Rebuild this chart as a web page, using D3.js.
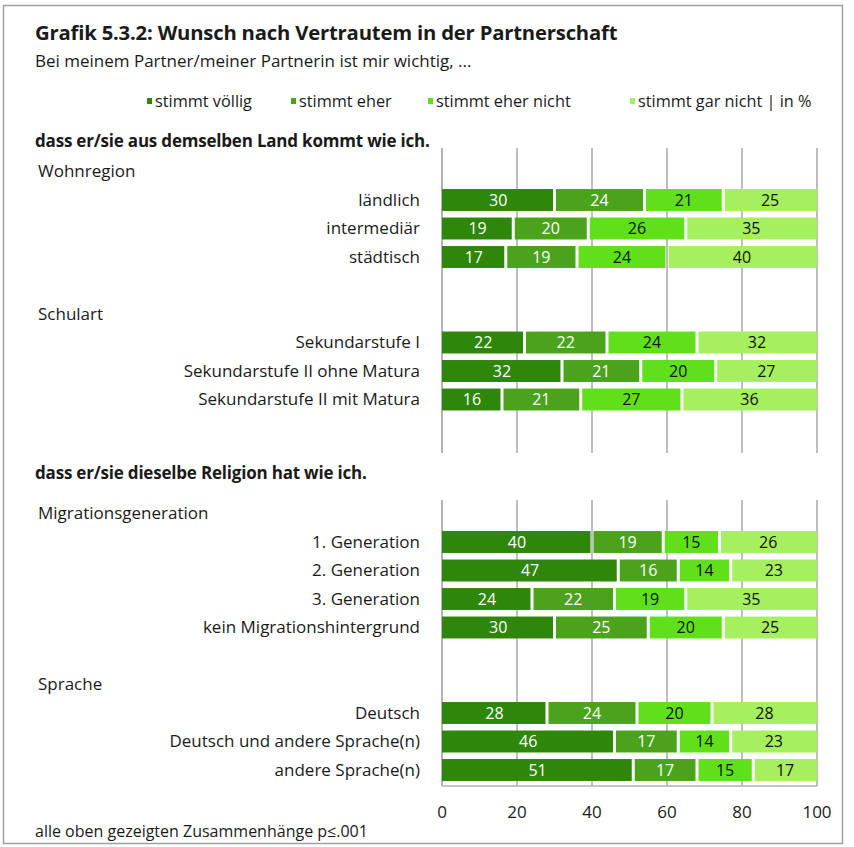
<!DOCTYPE html>
<html>
<head>
<meta charset="utf-8">
<script src="https://cdn.jsdelivr.net/npm/d3@7"></script>
<style>
  body { margin: 0; background: #fff; }
  text { font-family: "Open Sans", Lato, sans-serif; fill: #1a1a1a; }
</style>
</head>
<body>
<div id="app"></div>
<script>
// data
const categories = ['ländlich', 'intermediär', 'städtisch',
  'Sekundarstufe I', 'Sekundarstufe II ohne Matura', 'Sekundarstufe II mit Matura',
  '1. Generation', '2. Generation', '3. Generation', 'kein Migrationshintergrund',
  'Deutsch', 'Deutsch und andere Sprache(n)', 'andere Sprache(n)']
const stimmtVoellig   = [30, 19, 17, 22, 32, 16, 40, 47, 24, 30, 28, 46, 51]
const stimmtEher      = [24, 20, 19, 22, 21, 21, 19, 16, 22, 25, 24, 17, 17]
const stimmtEherNicht = [21, 26, 24, 24, 20, 27, 15, 14, 19, 20, 20, 14, 15]
const stimmtGarNicht  = [25, 35, 40, 32, 27, 36, 26, 23, 35, 25, 28, 23, 17]
const seriesNames = ['stimmt völlig', 'stimmt eher', 'stimmt eher nicht', 'stimmt gar nicht | in %']
const groupNames = ['Wohnregion', 'Schulart', 'Migrationsgeneration', 'Sprache']
const groupOf = [0, 0, 0, 1, 1, 1, 2, 2, 2, 2, 3, 3, 3]
const sectionTitles = ['dass er/sie aus demselben Land kommt wie ich.', 'dass er/sie dieselbe Religion hat wie ich.']
const xTicks = [0, 20, 40, 60, 80, 100]

const colors = ['#2e860b', '#4aa31b', '#5fe01a', '#a6ef5e']
const labelColors = ['#ffffff', '#ffffff', '#111111', '#111111']

const W = 854, H = 847

// rows: group header, its categories, spacer rows between groups
const rowKeys = []
groupNames.forEach((g, gi) => {
  if (gi == 1) rowKeys.push('gap-a')
  if (gi == 2) rowKeys.push('gap-b', 'gap-c', 'gap-d')
  if (gi == 3) rowKeys.push('gap-e')
  rowKeys.push('hdr-' + g)
  categories.forEach((c, i) => { if (groupOf[i] == gi) rowKeys.push(c) })
})

const table = categories.map((c, i) => ({
  cat: c, v0: stimmtVoellig[i], v1: stimmtEher[i], v2: stimmtEherNicht[i], v3: stimmtGarNicht[i]
}))
const stack = d3.stack().keys(['v0', 'v1', 'v2', 'v3'])(table)

const x = d3.scaleLinear().domain([0, 100]).range([442, 817])
const step = 28.5
const y = d3.scaleBand().domain(rowKeys)
  .range([157.25, 157.25 + step * rowKeys.length])
  .paddingInner(0.23).paddingOuter(0.115)

const svg = d3.select('#app').append('svg')
  .attr('width', W).attr('height', H)

// frame
svg.append('rect').attr('x', 3.5).attr('y', 5.5).attr('width', 839).attr('height', 838)
  .attr('fill', 'none').attr('stroke', '#a0a0a0').attr('stroke-width', 1.5)

// titles
svg.append('text').attr('x', 35).attr('y', 40).attr('font-size', 20.3).attr('font-weight', 700)
  .attr('letter-spacing', -0.2)
  .text('Grafik 5.3.2: Wunsch nach Vertrautem in der Partnerschaft')
svg.append('text').attr('x', 35).attr('y', 67).attr('font-size', 17)
  .text('Bei meinem Partner/meiner Partnerin ist mir wichtig, ...')

// legend
const legendX = [147, 291, 428, 630]
const legend = svg.append('g').selectAll('g').data(seriesNames).join('g')
  .attr('transform', (d, i) => `translate(${legendX[i]},101)`)
legend.append('rect').attr('x', 0).attr('y', -3).attr('width', 5).attr('height', 6)
  .attr('fill', (d, i) => colors[i])
legend.append('text').attr('x', 8).attr('dy', '0.35em').attr('font-size', 16.3).text(d => d)

// gridlines, two panels
const panels = [[148, 453], [500, 786]]
panels.forEach(p => {
  svg.append('g').selectAll('line').data(xTicks).join('line')
    .attr('x1', d => x(d)).attr('x2', d => x(d))
    .attr('y1', p[0]).attr('y2', p[1])
    .attr('stroke', d => d == 0 ? '#9a9a9a' : '#a8a8a8').attr('stroke-width', 1.5)
})
svg.append('line').attr('x1', x(0)).attr('x2', x(100)).attr('y1', 786).attr('y2', 786)
  .attr('stroke', '#b0b0b0').attr('stroke-width', 1.5)

// section headings
const secY = [141, 473]
sectionTitles.forEach((t, i) => {
  svg.append('text').attr('x', 35).attr('y', secY[i]).attr('dy', '0.35em')
    .attr('font-size', 17).attr('font-weight', 700).attr('letter-spacing', -0.2).text(t)
})

// group headers
svg.append('g').selectAll('text').data(groupNames).join('text')
  .attr('x', 38).attr('y', d => y('hdr-' + d) + y.bandwidth() / 2).attr('dy', '0.35em')
  .attr('font-size', 17).text(d => d)

// category labels
svg.append('g').selectAll('text').data(categories).join('text')
  .attr('x', 420).attr('y', d => y(d) + y.bandwidth() / 2).attr('dy', '0.35em')
  .attr('text-anchor', 'end').attr('font-size', 17).text(d => d)

// bars
const series = svg.append('g').selectAll('g').data(stack).join('g')
series.selectAll('rect').data((s, si) => s.map(d => ({ d, si }))).join('rect')
  .attr('x', o => x(o.d[0]) + (o.si > 0 ? 1.5 : 0))
  .attr('width', o => x(o.d[1]) - x(o.d[0]) - (o.si > 0 ? 1.5 : 0) - (o.si < 3 ? 1.5 : 0))
  .attr('y', o => y(o.d.data.cat))
  .attr('height', y.bandwidth())
  .attr('fill', o => colors[o.si])

series.selectAll('text').data((s, si) => s.map(d => ({ d, si }))).join('text')
  .attr('x', o => (x(o.d[0]) + x(o.d[1])) / 2)
  .attr('y', o => y(o.d.data.cat) + y.bandwidth() / 2)
  .attr('dy', '0.35em').attr('text-anchor', 'middle').attr('font-size', 16)
  .style('fill', o => labelColors[o.si])
  .text(o => o.d[1] - o.d[0])

// x axis labels
svg.append('g').selectAll('text').data(xTicks).join('text')
  .attr('x', d => x(d)).attr('y', 812).attr('dy', '0.35em')
  .attr('text-anchor', 'middle').attr('font-size', 17).text(d => d)

// footnote
svg.append('text').attr('x', 35).attr('y', 831).attr('dy', '0.35em').attr('font-size', 16)
  .text('alle oben gezeigten Zusammenhänge p≤.001')
</script>
</body>
</html>
